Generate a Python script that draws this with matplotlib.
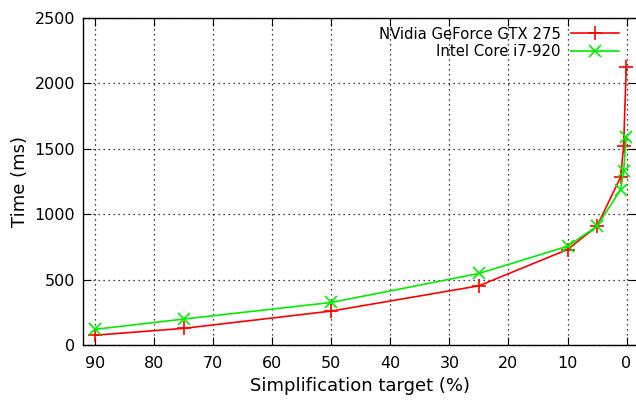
import matplotlib
matplotlib.use('Agg')
import matplotlib.pyplot as plt

# simplification target (%) and times (ms)
targets = [90, 75, 50, 25, 10, 5, 1, 0.5, 0.05]
gpu_times = [75, 127, 259, 452, 729, 907, 1283, 1517, 2120]
cpu_times = [120, 198, 325, 546, 754, 907, 1187, 1329, 1588]

x_ticks = [90, 80, 70, 60, 50, 40, 30, 20, 10, 0]
y_ticks = [0, 500, 1000, 1500, 2000, 2500]

plt.rcParams['font.family'] = ['DejaVu Sans']

fig = plt.figure(figsize=(6.36, 4.0), dpi=100)
ax = fig.add_axes([0.131, 0.1375, 0.869, 0.8185])

ax.plot(targets, gpu_times, color='#ff0000', linewidth=1.2, marker='+',
        markersize=9.5, markeredgewidth=1.2, label='NVidia GeForce GTX 275')
ax.plot(targets, cpu_times, color='#00ee00', linewidth=1.2, marker='x',
        markersize=8, markeredgewidth=1.2, label='Intel Core i7-920')

ax.set_xlim(92, -1.6)
ax.set_ylim(0, 2500)
ax.set_xticks(x_ticks)
ax.set_yticks(y_ticks)
ax.grid(True, color='black', linestyle=(0, (1, 3)), linewidth=0.9)
ax.tick_params(direction='in', length=6, top=True, right=True, labelsize=11.5)
ax.tick_params(axis='x', pad=8)
ax.tick_params(axis='y', pad=6)
ax.spines['right'].set_visible(False)
for s in ax.spines.values():
    s.set_linewidth(1.0)

ax.set_xlabel('Simplification target (%)', fontsize=13, labelpad=4)
ax.set_ylabel('Time (ms)', fontsize=13)

ax.legend(loc='upper right', frameon=False, markerfirst=False, fontsize=10.7,
          handlelength=3.2, handletextpad=0.7, borderaxespad=0.2, labelspacing=0.15,
          bbox_to_anchor=(0.985, 1.0))

fig.savefig('out.png', dpi=100)
